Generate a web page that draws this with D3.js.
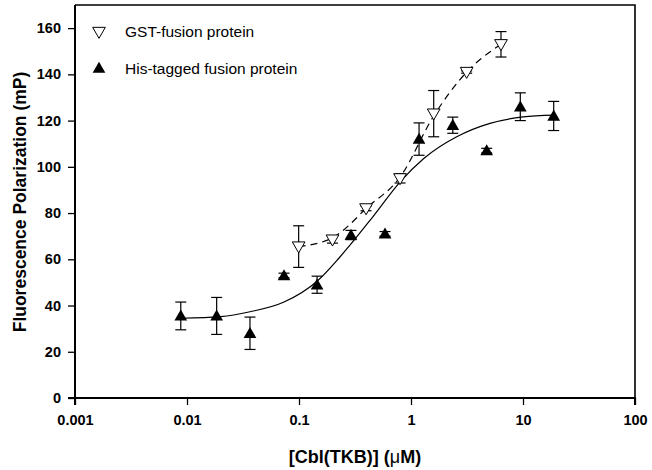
<!DOCTYPE html>
<html>
<head>
<meta charset="utf-8">
<script src="https://cdn.jsdelivr.net/npm/d3@7"></script>
<style>
  body { margin: 0; background: #fff; }
  svg text { font-family: "Liberation Sans", Arial, sans-serif; }
</style>
</head>
<body>
<div id="chart"></div>
<script>
// his-tagged fusion protein (filled triangles)
const hisX = [0.0088, 0.0184, 0.0365, 0.0735, 0.145, 0.291, 0.586, 1.18, 2.36, 4.74, 9.46, 18.8]
const hisY = [35.5, 35.5, 28, 53, 49, 70.5, 71, 112, 118, 107, 126, 122]
const hisErr = [6, 8, 7, 1, 3.7, 2, 1, 7, 3.5, 1, 6, 6.3]

// GST-fusion protein (open triangles)
const gstX = [0.0993, 0.199, 0.397, 0.798, 1.595, 3.14, 6.36]
const gstY = [65.5, 68.5, 82, 95, 123, 141, 153]
const gstErr = [9, 1.5, 1, 2, 10, 0.5, 5.5]

// fitted curves
const hisFitX = [0.0088, 0.02, 0.0365, 0.0735, 0.145, 0.232, 0.46, 0.8, 1.3, 2.56, 5.07, 10, 18.8]
const hisFitY = [34.5, 35.2, 37.3, 41.5, 50.5, 61, 78.6, 93.5, 103.6, 113, 118.8, 121.6, 122.4]
const gstFitX = [0.0993, 0.199, 0.249, 0.397, 0.798, 1.595, 3.14, 6.36]
const gstFitY = [65.5, 69.3, 72.6, 82, 95.5, 122, 141, 153]

const xTicks = [0.001, 0.01, 0.1, 1, 10, 100]
const xTickLabels = ['0.001', '0.01', '0.1', '1', '10', '100']
const yTicks = [0, 20, 40, 60, 80, 100, 120, 140, 160]

const W = 652, H = 470
const margin = { top: 5, right: 17, bottom: 72, left: 75 }
const width = W - margin.left - margin.right
const height = H - margin.top - margin.bottom

const svg = d3.select('#chart').append('svg')
    .attr('width', W)
    .attr('height', H)

const g = svg.append('g')
    .attr('transform', 'translate(' + margin.left + ',' + margin.top + ')')

const x = d3.scaleLog().domain([0.001, 100]).range([0, width])
const y = d3.scaleLinear().domain([0, 170]).range([height, 0])

// frame (top and right)
g.append('path')
    .attr('d', `M0,0H${width}V${height}`)
    .attr('fill', 'none')
    .attr('stroke', '#000')
    .attr('stroke-width', 1.6)

// axes
const xAxis = g.append('g')
    .attr('transform', 'translate(0,' + height + ')')
    .call(d3.axisBottom(x).tickValues(xTicks).tickFormat((d, i) => xTickLabels[i]).tickSize(7).tickPadding(10))
const yAxis = g.append('g')
    .call(d3.axisLeft(y).tickValues(yTicks).tickSize(7).tickPadding(7))

;[xAxis, yAxis].forEach(a => {
    a.select('.domain').attr('stroke-width', 2)
    a.selectAll('.tick line').attr('stroke-width', 1.3)
    a.selectAll('.tick text')
        .style('font-family', '"Liberation Sans", Arial, sans-serif')
        .style('font-size', '14.5px')
        .style('font-weight', 'bold')
        .attr('fill', '#000')
})
yAxis.select('.domain').attr('d', `M-7,${height}H0V0`)
xAxis.select('.domain').attr('d', `M0,7V0H${width}V7`)

// fit lines
const line = d3.line()
    .x(d => x(d[0]))
    .y(d => y(d[1]))
    .curve(d3.curveMonotoneX)

g.append('path')
    .datum(hisFitX.map((v, i) => [v, hisFitY[i]]))
    .attr('d', line)
    .attr('fill', 'none')
    .attr('stroke', '#000')
    .attr('stroke-width', 1.2)

g.append('path')
    .datum(gstFitX.map((v, i) => [v, gstFitY[i]]))
    .attr('d', line)
    .attr('fill', 'none')
    .attr('stroke', '#000')
    .attr('stroke-width', 1.2)
    .attr('stroke-dasharray', '7,5')

// error bars
function errorBars(xs, ys, es) {
    const eg = g.append('g').attr('stroke', '#000').attr('stroke-width', 1.2)
    xs.forEach((v, i) => {
        const cx = x(v), top = y(ys[i] + es[i]), bot = y(ys[i] - es[i])
        eg.append('line').attr('x1', cx).attr('x2', cx).attr('y1', top).attr('y2', bot)
        eg.append('line').attr('x1', cx - 5.5).attr('x2', cx + 5.5).attr('y1', top).attr('y2', top)
        eg.append('line').attr('x1', cx - 5.5).attr('x2', cx + 5.5).attr('y1', bot).attr('y2', bot)
    })
}
errorBars(hisX, hisY, hisErr)
errorBars(gstX, gstY, gstErr)

const tri = d3.symbol().type(d3.symbolTriangle).size(70)

g.selectAll('.his')
    .data(hisX.map((v, i) => [v, hisY[i]]))
    .join('path')
    .attr('class', 'his')
    .attr('d', tri)
    .attr('transform', d => `translate(${x(d[0])},${y(d[1]) + 1})`)
    .attr('fill', '#000')

g.selectAll('.gst')
    .data(gstX.map((v, i) => [v, gstY[i]]))
    .join('path')
    .attr('class', 'gst')
    .attr('d', tri)
    .attr('transform', d => `translate(${x(d[0])},${y(d[1]) - 1}) rotate(180)`)
    .attr('fill', '#fff')
    .attr('stroke', '#000')
    .attr('stroke-width', 1)

// legend
const legend = svg.append('g')
legend.append('path').attr('d', tri)
    .attr('transform', 'translate(99,31) rotate(180)')
    .attr('fill', '#fff').attr('stroke', '#000').attr('stroke-width', 1)
legend.append('text').attr('x', 125).attr('y', 37).text('GST-fusion protein')
    .style('font-size', '15.5px')
legend.append('path').attr('d', tri)
    .attr('transform', 'translate(99,69)')
    .attr('fill', '#000')
legend.append('text').attr('x', 125).attr('y', 73.5).text('His-tagged fusion protein')
    .style('font-size', '15.5px')

// axis titles
const xt = svg.append('text')
    .attr('x', 355)
    .attr('y', 463)
    .attr('text-anchor', 'middle')
    .style('font-size', '18px')
    .style('font-weight', 'bold')
xt.append('tspan').text('[Cbl(TKB)] (')
xt.append('tspan').text('\u03bc').style('font-weight', 'normal')
xt.append('tspan').text('M)')

svg.append('text')
    .attr('transform', 'translate(26,202) rotate(-90)')
    .attr('text-anchor', 'middle')
    .style('font-size', '17.5px')
    .style('font-weight', 'bold')
    .text('Fluorescence Polarization (mP)')
</script>
</body>
</html>
